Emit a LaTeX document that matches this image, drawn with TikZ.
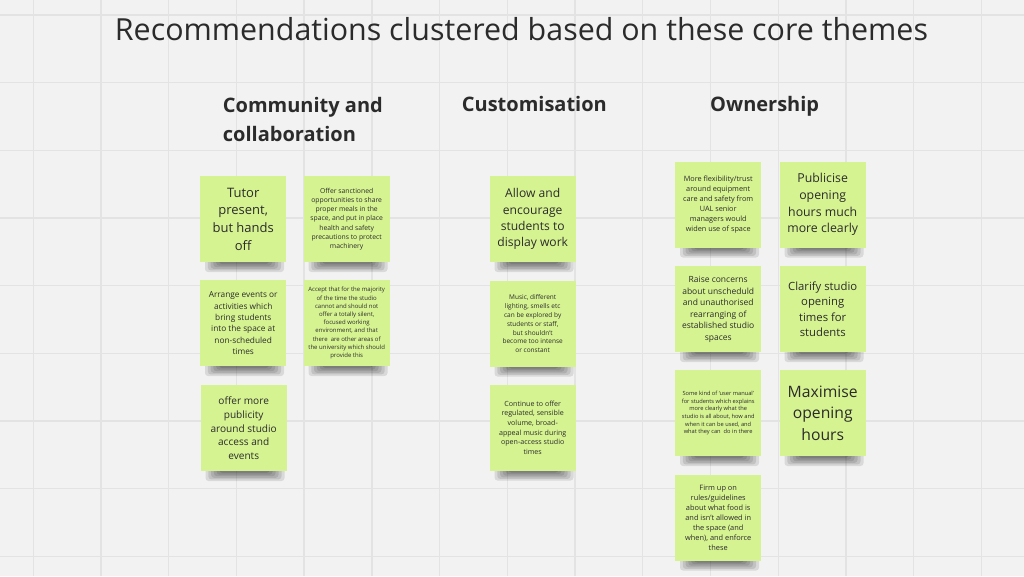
\documentclass[tikz,border=0pt]{standalone}
\usepackage{fontspec}
\setmainfont{Open Sans}
\usetikzlibrary{calc}
\definecolor{bg}{HTML}{F2F2F2}
\definecolor{gridc}{HTML}{E3E3E3}
\definecolor{notec}{HTML}{D6F391}
\definecolor{inkc}{HTML}{2B2B2B}
\tikzset{
  note/.style={fill=notec, minimum width=86pt, minimum height=86pt, inner sep=0pt,
    anchor=north west, align=center, text=inkc},
  heading/.style={font=\bfseries\fontsize{20}{29}\selectfont, text=inkc, align=left, inner sep=0pt},
  gridline/.style={gridc, line width=1.4pt},
}
\newcommand\sticky[6]{%
  \foreach \k in {0,...,5}{%
    \fill[black,opacity=0.1,rounded corners=3pt] (#2+5+2.8*\k, #3+80) rectangle (#2+84-3*\k, #3+96-1.6*\k);
  }%
  \node[note, font=\fontsize{#4}{#5}\selectfont] (#1) at (#2,#3) {#6};
}
\begin{document}
\begin{tikzpicture}[x=1pt,y=-1pt]
\useasboundingbox (0,0) rectangle (1024,576);
\clip (0,0) rectangle (1024,576);
\fill[bg] (0,0) rectangle (1024,576);
\foreach \i in {0,...,14} \draw[gridline] (33.3+67.72*\i,0) -- (33.3+67.72*\i,576);
\foreach \j in {0,...,8} \draw[gridline] (0,15+67.65*\j) -- (1024,15+67.65*\j);

\node[anchor=base, font=\fontsize{30.4}{36}\selectfont, text=inkc, inner sep=0pt] (title) at (521.5,40) {Recommendations clustered based on these core themes};

\node[heading, anchor=base west] (h1) at (222.7,141.7) {Community and\\collaboration};
\node[heading, anchor=base west] (h2) at (461.7,111.7) {Customisation};
\node[heading, anchor=base west] (h3) at (710,111.3) {Ownership};

% Column 1
\sticky{n1}{200}{176}{13}{17.7}{Tutor\\present,\\but hands\\off}
\sticky{n2}{303.5}{176}{6.8}{9.2}{Offer sanctioned\\opportunities to share\\proper meals in the\\space, and put in place\\health and safety\\precautions to protect\\machinery}
\sticky{n3}{200}{280}{8.3}{11.3}{Arrange events or\\activities which\\bring students\\into the space at\\non-scheduled\\times}
\sticky{n4}{303.5}{280}{6}{8.2}{Accept that for the majority\\of the time the studio\\cannot and should not\\offer a totally silent,\\focused working\\environment, and that\\there\ \ are other areas of\\the university which should\\provide this}
\sticky{n5}{200.5}{385}{10.1}{13.7}{offer more\\publicity\\around studio\\access and\\events}

% Column 2
\sticky{n6}{489.5}{176}{12.1}{16.4}{Allow and\\encourage\\students to\\display work}
\sticky{n7}{489.5}{280.5}{6.5}{8.9}{Music, different\\lighting, smells etc\\can be explored by\\students or staff,\\but shouldn't\\become too intense\\or constant}
\sticky{n8}{489.5}{384.5}{7.1}{9.7}{Continue to offer\\regulated, sensible\\volume, broad-\\appeal music during\\open-access studio\\times}

% Column 3
\sticky{n9}{675}{161.5}{7.3}{9.9}{More flexibility/trust\\around equipment\\care and safety from\\UAL senior\\managers would\\widen use of space}
\sticky{n10}{779.5}{161.5}{12.3}{16.7}{Publicise\\opening\\hours much\\more clearly}
\sticky{n11}{675}{266}{8.5}{11.5}{Raise concerns\\about unscheduld\\and unauthorised\\rearranging of\\established studio\\spaces}
\sticky{n12}{779.5}{266}{11.3}{15.3}{Clarify studio\\opening\\times for\\students}
\sticky{n13}{675}{370}{5.7}{7.7}{Some kind of `user manual'\\for students which explains\\more clearly what the\\studio is all about, how and\\when it can be used, and\\what they can\ \ do in there}
\sticky{n14}{779.5}{370}{15.7}{21.3}{Maximise\\opening\\hours}
\sticky{n15}{675}{474.5}{7.4}{10}{Firm up on\\rules/guidelines\\about what food is\\and isn't allowed in\\the space (and\\when), and enforce\\these}
\end{tikzpicture}
\end{document}
